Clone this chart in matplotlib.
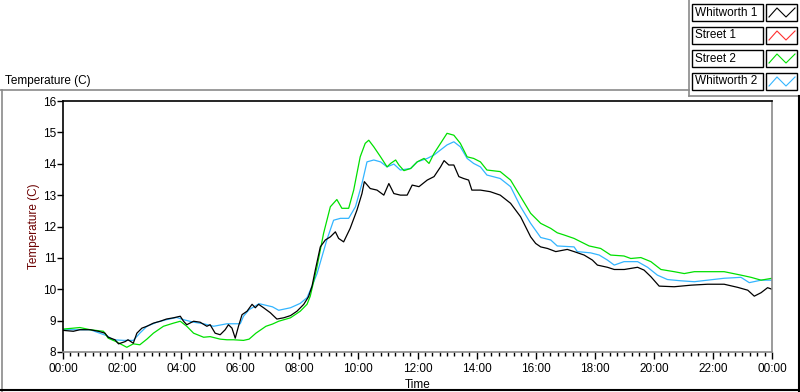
import matplotlib
matplotlib.use("Agg")
import matplotlib.pyplot as plt
from matplotlib.lines import Line2D
from matplotlib.patches import Rectangle

# series data (time in hours, temperature in C)
whit1_t = [0, 0.35, 0.57, 0.92, 1.2, 1.42, 1.53, 1.76, 1.88, 2.1, 2.2, 2.38, 2.5, 2.67, 2.84,
           3.06, 3.29, 3.5, 3.74, 3.97, 4.08, 4.19, 4.42, 4.64, 4.87, 4.98, 5.15, 5.32, 5.49,
           5.6, 5.72, 5.83, 5.94, 6.06, 6.23, 6.4, 6.51, 6.62, 6.79, 7.02, 7.24, 7.47, 7.7,
           7.92, 8.15, 8.31, 8.43, 8.54, 8.71, 8.88, 9.05, 9.22, 9.33, 9.5, 9.72, 9.95, 10.12,
           10.2, 10.4, 10.63, 10.86, 11.03, 11.2, 11.42, 11.65, 11.82, 12.05, 12.33, 12.56,
           12.78, 12.9, 13.06, 13.23, 13.4, 13.56, 13.73, 13.84, 14.13, 14.46, 14.8, 15.15,
           15.49, 15.83, 16.0, 16.17, 16.4, 16.68, 17.07, 17.3, 17.64, 17.92, 18.09, 18.43,
           18.66, 19.0, 19.45, 19.67, 19.9, 20.18, 20.69, 21.26, 21.82, 22.38, 22.84, 23.18,
           23.4, 23.63, 23.85, 24.0]
whit1_v = [8.69, 8.66, 8.71, 8.71, 8.66, 8.6, 8.47, 8.39, 8.26, 8.33, 8.39, 8.28, 8.6, 8.76, 8.82,
           8.92, 8.98, 9.05, 9.09, 9.14, 8.98, 8.87, 8.98, 8.95, 8.82, 8.87, 8.6, 8.55, 8.71,
           8.87, 8.76, 8.44, 8.82, 9.19, 9.3, 9.52, 9.41, 9.52, 9.41, 9.25, 9.05, 9.09, 9.16,
           9.3, 9.52, 9.76, 10.1, 10.61, 11.35, 11.57, 11.67, 11.83, 11.62, 11.51, 11.94,
           12.52, 13.05, 13.43, 13.21, 13.16, 13.0, 13.37, 13.05, 13.0, 13.0, 13.32, 13.27,
           13.48, 13.59, 13.9, 14.1, 13.96, 13.96, 13.59, 13.53, 13.48, 13.16, 13.16, 13.11,
           13.0, 12.74, 12.31, 11.67, 11.46, 11.35, 11.3, 11.2, 11.27, 11.2, 11.09, 10.93,
           10.77, 10.7, 10.63, 10.63, 10.7, 10.61, 10.4, 10.1, 10.08, 10.13, 10.16, 10.16,
           10.06, 9.97, 9.78, 9.89, 10.05, 10.0]

street2_t = [0, 0.35, 0.57, 0.92, 1.37, 1.53, 1.8, 2.16, 2.38, 2.6, 2.84, 3.06, 3.4, 3.74,
             3.97, 4.19, 4.42, 4.76, 4.98, 5.32, 5.55, 5.77, 6.11, 6.3, 6.53, 6.87, 7.09,
             7.3, 7.7, 8.03, 8.26, 8.37, 8.6, 8.82, 9.05, 9.27, 9.44, 9.67, 9.84, 10.06,
             10.23, 10.35, 10.52, 10.75, 10.97, 11.09, 11.26, 11.37, 11.54, 11.77, 11.99,
             12.22, 12.39, 12.56, 12.78, 13.0, 13.23, 13.45, 13.68, 13.9, 14.13, 14.35,
             14.8, 15.15, 15.49, 15.83, 16.17, 16.51, 16.73, 16.96, 17.3, 17.64, 17.81,
             18.2, 18.54, 18.99, 19.22, 19.56, 19.9, 20.24, 20.69, 21.03, 21.37, 21.82,
             22.38, 22.95, 23.29, 23.63, 24.0]
street2_v = [8.73, 8.76, 8.78, 8.71, 8.66, 8.44, 8.33, 8.15, 8.26, 8.23, 8.41, 8.6, 8.82, 8.92,
             8.98, 8.82, 8.6, 8.47, 8.49, 8.41, 8.39, 8.39, 8.37, 8.41, 8.6, 8.82, 8.89,
             8.98, 9.09, 9.3, 9.52, 9.78, 10.72, 11.78, 12.63, 12.86, 12.58, 12.58, 13.16,
             14.22, 14.65, 14.75, 14.54, 14.22, 13.9, 14.01, 14.12, 13.96, 13.78, 13.85,
             14.06, 14.17, 14.01, 14.33, 14.65, 14.97, 14.91, 14.65, 14.22, 14.17, 14.06,
             13.8, 13.75, 13.48, 12.95, 12.42, 12.1, 11.94, 11.8, 11.73, 11.62, 11.46,
             11.38, 11.3, 11.09, 11.06, 10.98, 11.01, 10.88, 10.63, 10.56, 10.5, 10.56,
             10.56, 10.56, 10.45, 10.38, 10.29, 10.35]

whit2_t = [0, 0.92, 1.48, 1.7, 2.05, 2.38, 2.6, 2.84, 3.18, 3.5, 3.85, 4.08, 4.42, 4.76,
           5.1, 5.55, 6.0, 6.11, 6.3, 6.64, 7.09, 7.3, 7.7, 8.03, 8.26, 8.43, 8.6, 8.93,
           9.16, 9.39, 9.67, 9.9, 10.12, 10.29, 10.52, 10.75, 10.97, 11.2, 11.42, 11.77,
           11.99, 12.33, 12.56, 12.78, 13.0, 13.23, 13.45, 13.68, 13.9, 14.13, 14.35, 14.8,
           15.15, 15.49, 15.83, 16.17, 16.51, 16.73, 17.3, 17.41, 17.86, 18.15, 18.43,
           18.66, 18.99, 19.45, 19.79, 20.12, 20.46, 20.91, 21.37, 21.82, 22.38, 22.95,
           23.23, 23.63, 24.0]
whit2_v = [8.71, 8.71, 8.52, 8.39, 8.37, 8.37, 8.6, 8.82, 8.95, 9.03, 9.1, 9.03, 8.95, 8.9,
           8.82, 8.9, 8.9, 9.14, 9.35, 9.54, 9.44, 9.33, 9.41, 9.55, 9.73, 10.1, 10.5, 11.57,
           12.2, 12.26, 12.26, 12.63, 13.37, 14.06, 14.12, 14.06, 13.9, 13.99, 13.8, 13.85,
           14.06, 14.17, 14.28, 14.44, 14.6, 14.7, 14.54, 14.17, 14.01, 13.9, 13.64, 13.53,
           13.27, 12.63, 12.1, 11.65, 11.57, 11.38, 11.35, 11.2, 11.16, 11.09, 10.93,
           10.77, 10.88, 10.88, 10.7, 10.45, 10.31, 10.27, 10.24, 10.29, 10.35, 10.38,
           10.21, 10.29, 10.29]

legend_names = ["Whitworth 1", "Street 1", "Street 2", "Whitworth 2"]
legend_colors = ["#000000", "#ff3030", "#00e000", "#33b5ff"]
xtick_labels = ["00:00", "02:00", "04:00", "06:00", "08:00", "10:00", "12:00",
                "14:00", "16:00", "18:00", "20:00", "22:00", "00:00"]

W, H = 800, 392
plt.rcParams['font.family'] = ['Liberation Sans', 'DejaVu Sans']
fig = plt.figure(figsize=(8, 3.92), dpi=100)
fig.patch.set_facecolor("white")

def fx(px):
    return px / W

def fy(py):
    return 1 - py / H

ax = fig.add_axes([fx(63), fy(352), fx(772) - fx(63), fy(101) - fy(352)])
ax.plot(whit2_t, whit2_v, color=legend_colors[3], lw=0.9)
ax.plot(street2_t, street2_v, color=legend_colors[2], lw=0.9)
ax.plot(whit1_t, whit1_v, color=legend_colors[0], lw=0.9)

ax.set_xlim(0, 24)
ax.set_ylim(8, 16)
ax.set_xticks(range(0, 25, 2))
ax.set_xticklabels(xtick_labels, fontsize=8.5)
ax.set_xticks([i * 0.25 for i in range(97)], minor=True)
ax.set_yticks(range(8, 17))
ax.tick_params(axis='y', labelsize=8.5, length=4, width=1, pad=1)
ax.tick_params(axis='x', which='major', length=5, width=1, pad=3)
ax.tick_params(axis='x', which='minor', length=3, width=1)
ax.spines['left'].set_color('black')
ax.spines['top'].set_color('black')
ax.spines['right'].set_color('#8a8a8a')
ax.spines['bottom'].set_color('#8a8a8a')
for s in ax.spines.values():
    s.set_linewidth(1.2)
ax.set_ylabel("Temperature (C)", fontsize=8.5, color="#6b0000", labelpad=2)
ax.set_xlabel("Time", fontsize=8.5, labelpad=3)

# panel frame
gray = '#8a8a8a'
fig.add_artist(Line2D([fx(0), fx(689)], [fy(90), fy(90)], color=gray, lw=1.2))
fig.add_artist(Line2D([fx(689), fx(689)], [fy(0), fy(96)], color=gray, lw=1.2))
fig.add_artist(Line2D([fx(689), fx(800)], [fy(96), fy(96)], color=gray, lw=1.2))
fig.add_artist(Line2D([fx(1.5), fx(1.5)], [fy(90), fy(392)], color=gray, lw=1.2))
fig.add_artist(Line2D([fx(0), fx(800)], [fy(390), fy(390)], color='black', lw=1.5))
fig.add_artist(Line2D([fx(798.5), fx(798.5)], [fy(96), fy(392)], color='black', lw=1.5))
fig.text(fx(5), fy(81), "Temperature (C)", fontsize=8.5, va='center', ha='left')

# legend
for i, (name, col) in enumerate(zip(legend_names, legend_colors)):
    top = 4 + i * 23
    fig.add_artist(Rectangle((fx(692), fy(top + 17)), fx(71), fy(0) - fy(17),
                             fill=False, edgecolor='black', lw=1.0))
    fig.add_artist(Rectangle((fx(766), fy(top + 17)), fx(31), fy(0) - fy(17),
                             fill=False, edgecolor='black', lw=1.0))
    fig.text(fx(695), fy(top + 8.5), name, fontsize=8.5, va='center', ha='left')
    zx = [769, 777, 786, 795]
    zy = [top + 13, top + 4, top + 13, top + 4]
    fig.add_artist(Line2D([fx(v) for v in zx], [fy(v) for v in zy], color=col, lw=0.8))

fig.savefig("out.png", dpi=100)
